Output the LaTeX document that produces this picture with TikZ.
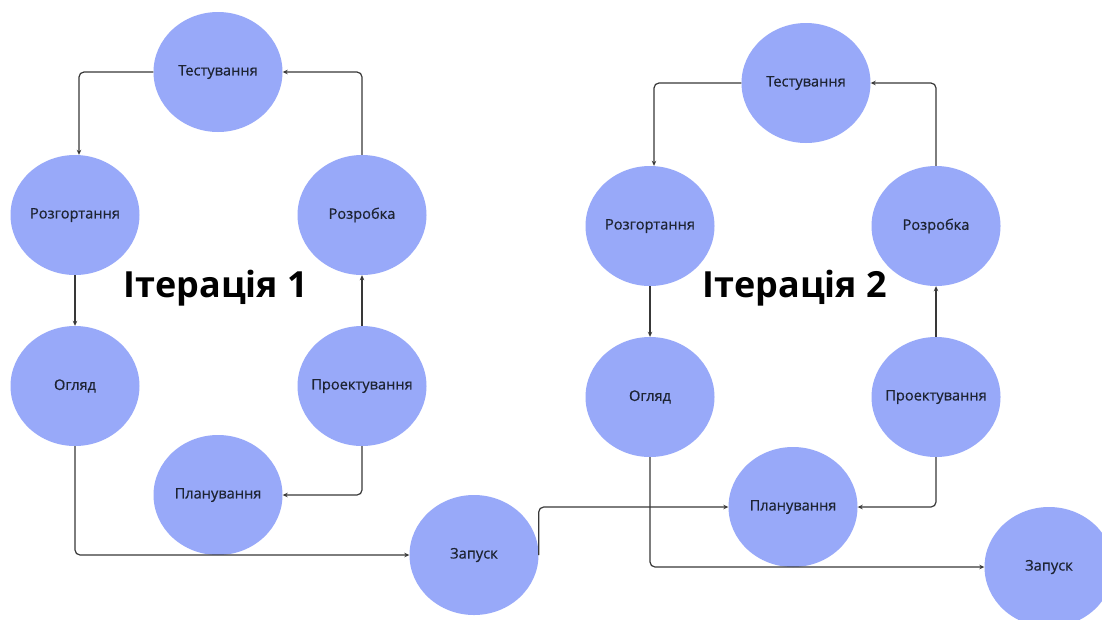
\documentclass[tikz,border=0pt]{standalone}
\usepackage{fontspec}
\setmainfont{Open Sans}
\newfontface\labfont{Open Sans}[FakeBold=0.6]
\usetikzlibrary{shapes.geometric,arrows.meta}
\definecolor{bub}{HTML}{98A9F9}
\definecolor{ink}{HTML}{1E2433}
\definecolor{wire}{HTML}{383838}
\newcommand{\zw}[1]{\makebox[0pt]{#1}}
\tikzset{
  stage/.style={ellipse, fill=bub, draw=none, minimum width=129pt, minimum height=120pt,
    inner sep=0pt, font=\labfont\fontsize{14.6}{16}\selectfont, text=ink},
  flow/.style={draw=wire, line width=1.2pt, rounded corners=5pt,
    -{Stealth[length=5pt,width=4.5pt]}},
  title/.style={font=\bfseries\fontsize{36}{40}\selectfont, text=black}
}
\begin{document}
\begin{tikzpicture}[x=1pt,y=-1pt]
\useasboundingbox[fill=white] (0,0) rectangle (1102,619);
% Iteration 1
\node[stage] (test1)   at (218,72)  {\zw{Тестування}};
\node[stage] (razg1)   at (75,215)  {\zw{Розгортання}};
\node[stage] (rozr1)   at (362,215) {\zw{Розробка}};
\node[stage] (ohl1)    at (75,386)  {\zw{Огляд}};
\node[stage] (proekt1) at (362,386) {\zw{Проектування}};
\node[stage] (plan1)   at (218,495) {\zw{Планування}};
\node[stage] (zap1)    at (474,555) {\zw{Запуск}};
\node[title] (it1) at (216,288) {Ітерація 1};
% Iteration 2
\node[stage] (test2)   at (806,83)  {\zw{Тестування}};
\node[stage] (razg2)   at (650,226) {\zw{Розгортання}};
\node[stage] (rozr2)   at (936,226) {\zw{Розробка}};
\node[stage] (ohl2)    at (650,397) {\zw{Огляд}};
\node[stage] (proekt2) at (936,397) {\zw{Проектування}};
\node[stage] (plan2)   at (793,507) {\zw{Планування}};
\node[stage] (zap2)    at (1049,567) {\zw{Запуск}};
\node[title] (it2) at (795,288) {Ітерація 2};
% connectors iteration 1
\draw[flow] (test1.west) -| ([xshift=4pt]razg1.north);
\draw[flow] (razg1.south) -- (ohl1.north);
\draw[flow] (proekt1.north) -- (rozr1.south);
\draw[flow] (rozr1.north) |- (test1.east);
\draw[flow] (proekt1.south) |- (plan1.east);
\draw[flow] (ohl1.south) |- (zap1.west);
\draw[flow] (zap1.east) |- (plan2.west);
% connectors iteration 2
\draw[flow] (test2.west) -| ([xshift=4pt]razg2.north);
\draw[flow] (razg2.south) -- (ohl2.north);
\draw[flow] (proekt2.north) -- (rozr2.south);
\draw[flow] (rozr2.north) |- (test2.east);
\draw[flow] (proekt2.south) |- (plan2.east);
\draw[flow] (ohl2.south) |- (zap2.west);
\end{tikzpicture}
\end{document}
